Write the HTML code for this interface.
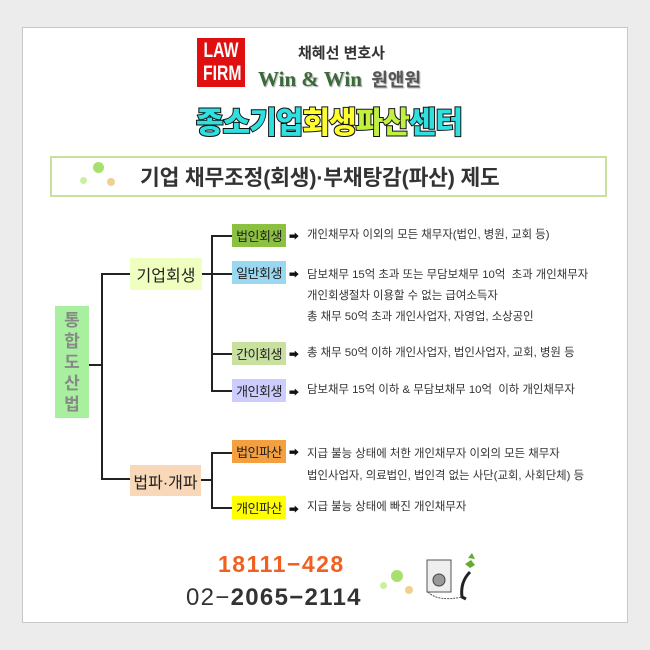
<!DOCTYPE html>
<html><head><meta charset="utf-8"><style>
body{margin:0;width:650px;height:650px;background:#ececec;position:relative;overflow:hidden;font-family:"Liberation Sans","Noto Sans CJK KR",sans-serif}
.a{position:absolute;white-space:nowrap}
.frame{left:22px;top:27px;width:604px;height:594px;background:#fff;border:1px solid #c8c8c8}
.l{position:absolute;background:#222}
.box{position:absolute;display:flex;align-items:center;justify-content:center;color:#222}
.sm{font-size:13px;height:23px;width:54px;left:232px;letter-spacing:-0.5px}
.t{position:absolute;left:307px;font-size:11.4px;color:#333;letter-spacing:0px;white-space:nowrap;line-height:14px}
.ar{position:absolute;left:289px;font-size:10px;color:#111}
.dot{position:absolute;border-radius:50%}
</style></head><body>
<div class="a frame"></div>
<div class="a" style="left:197px;top:38px;width:48px;height:49px;background:#e01010"></div>
<div class="a" style="left:197px;top:39px;width:48px;color:#fff;font-weight:bold;font-size:21px;line-height:23px;text-align:center;transform:scaleX(0.75);transform-origin:center">LAW<br>FIRM</div>
<div class="a" style="left:298px;top:42px;font-size:15px;font-weight:bold;color:#333">채혜선 변호사</div>
<div class="a" style="left:258px;top:66px;font-family:'Liberation Serif','Noto Serif CJK SC',serif;font-size:21px;font-weight:bold;color:#3a6a3a;text-shadow:1px 1px 1px #aaa">Win &amp; Win <span style="font-family:'Noto Sans CJK KR',sans-serif;font-size:18px;color:#555">&nbsp;원앤원</span></div>
<div class="a" style="left:196px;top:98px;font-size:30px;font-weight:900;letter-spacing:-1px;-webkit-text-stroke:2px #111;paint-order:stroke fill"><span style="color:#30e0e0">종소기업</span><span style="color:#ffff30">회생</span><span style="color:#c0f040">파산</span><span style="color:#30e0e0">센터</span></div>
<div class="a" style="left:50px;top:156px;width:553px;height:37px;border:2px solid #c8e0a0"></div>
<div class="dot" style="left:80px;top:177px;width:7px;height:7px;background:#c8f0a0"></div>
<div class="dot" style="left:93px;top:162px;width:11px;height:11px;background:#a8e070"></div>
<div class="dot" style="left:107px;top:178px;width:8px;height:8px;background:#f0d090"></div>
<div class="a" style="left:140px;top:161px;font-size:21.5px;font-weight:bold;color:#333;letter-spacing:-0.2px">기업 채무조정(회생)·부채탕감(파산) 제도</div>
<div class="box" style="left:55px;top:306px;width:34px;height:112px;background:#a8f0a0;color:#888;font-weight:bold;font-size:17px;line-height:21px;text-align:center;flex-direction:column">통<br>합<br>도<br>산<br>법</div>
<div class="l" style="left:89px;top:364px;width:13px;height:2px"></div>
<div class="l" style="left:101px;top:273px;width:2px;height:207px"></div>
<div class="l" style="left:101px;top:273px;width:29px;height:2px"></div>
<div class="l" style="left:101px;top:478px;width:29px;height:2px"></div>
<div class="box" style="left:130px;top:258px;width:72px;height:32px;background:#eeffc0;font-size:16px">기업회생</div>
<div class="box" style="left:130px;top:465px;width:71px;height:31px;background:#f8d8b8;font-size:16px">법파·개파</div>
<div class="l" style="left:202px;top:273px;width:10px;height:2px"></div>
<div class="l" style="left:211px;top:235px;width:2px;height:157px"></div>
<div class="l" style="left:211px;top:235px;width:21px;height:2px"></div>
<div class="l" style="left:211px;top:273px;width:21px;height:2px"></div>
<div class="l" style="left:211px;top:353px;width:21px;height:2px"></div>
<div class="l" style="left:211px;top:390px;width:21px;height:2px"></div>
<div class="l" style="left:201px;top:479px;width:11px;height:2px"></div>
<div class="l" style="left:211px;top:452px;width:2px;height:57px"></div>
<div class="l" style="left:211px;top:452px;width:21px;height:2px"></div>
<div class="l" style="left:211px;top:507px;width:21px;height:2px"></div>
<div class="box sm" style="top:224px;background:#8cc040">법인회생</div>
<div class="box sm" style="top:261px;background:#99d8f0">일반회생</div>
<div class="box sm" style="top:342px;background:#c8e0a0">간이회생</div>
<div class="box sm" style="top:379px;background:#ccccff">개인회생</div>
<div class="box sm" style="top:440px;background:#f4a040">법인파산</div>
<div class="box sm" style="top:496px;background:#ffff00">개인파산</div>
<div class="ar" style="top:228px">➡</div>
<div class="ar" style="top:266px">➡</div>
<div class="ar" style="top:346px">➡</div>
<div class="ar" style="top:384px">➡</div>
<div class="ar" style="top:444px">➡</div>
<div class="ar" style="top:501px">➡</div>
<div class="t" style="top:228px">개인채무자 이외의 모든 채무자(법인, 병원, 교회 등)</div>
<div class="t" style="top:265px;line-height:21px">담보채무 15억 초과 또는 무담보채무 10억 &nbsp;초과 개인채무자<br>개인회생절차 이용할 수 없는 급여소득자<br>총 채무 50억 초과 개인사업자, 자영업, 소상공인</div>
<div class="t" style="top:346px">총 채무 50억 이하 개인사업자, 법인사업자, 교회, 병원 등</div>
<div class="t" style="top:383px">담보채무 15억 이하 &amp; 무담보채무 10억 &nbsp;이하 개인채무자</div>
<div class="t" style="top:443px;line-height:22px">지급 불능 상태에 처한 개인채무자 이외의 모든 채무자<br>법인사업자, 의료법인, 법인격 없는 사단(교회, 사회단체) 등</div>
<div class="t" style="top:500px">지급 불능 상태에 빠진 개인채무자</div>
<div class="a" style="left:218px;top:551px;font-size:23px;font-weight:bold;color:#f06020;letter-spacing:1.5px">18111−428</div>
<div class="a" style="left:186px;top:584px;font-size:24px;color:#333;letter-spacing:1.3px"><span>02−</span><b>2065−2114</b></div>
<div class="dot" style="left:380px;top:582px;width:7px;height:7px;background:#c8f0a0"></div>
<div class="dot" style="left:391px;top:570px;width:12px;height:12px;background:#a8e070"></div>
<div class="dot" style="left:405px;top:586px;width:8px;height:8px;background:#f0d090"></div>
<svg class="a" style="left:420px;top:552px" width="60" height="55">
<rect x="7" y="8" width="24" height="32" fill="#eee" stroke="#555"/>
<circle cx="19" cy="28" r="6" fill="#999" stroke="#444"/>
<path d="M45 12 l6 -4 l4 5 l-5 3z M48 6 l4 -5 l3 6z" fill="#6a3"/>
<path d="M50 20 q-10 10 -8 25 l4 2" stroke="#222" stroke-width="3" fill="none"/>
<path d="M8 40 q10 10 34 5" stroke="#555" fill="none" stroke-dasharray="2 1"/>
</svg>
</body></html>
